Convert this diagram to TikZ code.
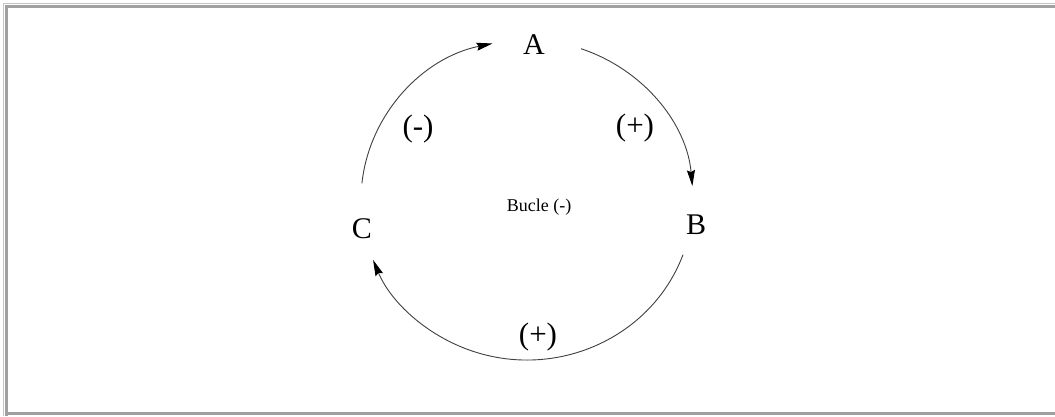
\documentclass[tikz,border=0pt]{standalone}
\usepackage{fontspec}
\setmainfont{Liberation Serif}
\usetikzlibrary{arrows.meta,calc}
\definecolor{frameLight}{HTML}{C4C4C4}
\definecolor{frameDark}{HTML}{A0A0A0}
\begin{document}
\begin{tikzpicture}[x=1pt,y=-1pt,
  varlabel/.style={font=\fontsize{30}{30}\selectfont, inner sep=0pt},
  signlabel/.style={font=\fontsize{31}{31}\selectfont, inner sep=0pt},
  loopline/.style={line width=0.9pt, draw=black!75,
    -{Stealth[length=16pt,width=8pt,inset=2pt,color=black]}}]
  \useasboundingbox (0,0) rectangle (1055,416);
  \fill[white] (0,0) rectangle (1055,416);
  % frame
  \fill[frameLight] (2.5,2.5) rectangle (1055,3.8);
  \fill[frameLight] (2.5,2.5) rectangle (3.8,416);
  \fill[frameDark] (5,5) rectangle (1055,7.5);
  \fill[frameDark] (5,5) rectangle (7.5,416);
  \fill[frameDark] (5,411.5) rectangle (1055,414.5);
  % nodes
  \coordinate (O) at (527,200);
  \node[varlabel] (A) at (534,45) {A};
  \node[varlabel] (B) at (696,225) {B};
  \node[varlabel] (C) at (362,229) {C};
  \node[font=\fontsize{18}{18}\selectfont, inner sep=0pt] (loop) at (539,207) {Bucle (-)};
  \node[signlabel] (s1) at (635,128) {(+)};
  \node[signlabel] (s2) at (418,129) {(-)};
  \node[signlabel] (s3) at (538,337) {(+)};
  % arc start points
  \coordinate (ab) at ($(O)+(-71:166 and 160)$);
  \coordinate (bc) at ($(O)+(20:166 and 160)$);
  \coordinate (ca) at ($(O)+(-174:166 and 160)$);
  \draw[loopline] (ab) arc[start angle=-71, end angle=-5, x radius=166, y radius=160];
  \draw[loopline] (bc) arc[start angle=20, end angle=158, x radius=166, y radius=160];
  \draw[loopline] (ca) arc[start angle=-174, end angle=-102, x radius=166, y radius=160];
\end{tikzpicture}
\end{document}
